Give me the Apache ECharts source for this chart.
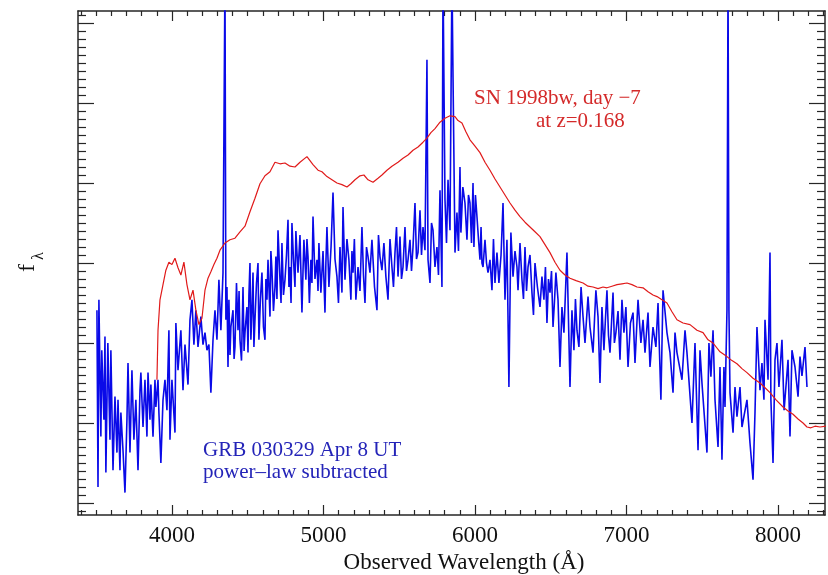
<!DOCTYPE html>
<html>
<head>
<meta charset="utf-8">
<title>GRB 030329 vs SN 1998bw</title>
<script src="https://cdn.jsdelivr.net/npm/echarts@6/dist/echarts.min.js"></script>
<style>
  html, body { margin: 0; padding: 0; background: #fff; }
  #chart { width: 828px; height: 575px; }
</style>
</head>
<body>
<div id="chart"></div>
<script>
// [wavelength (Angstrom), flux (arbitrary, 10 units per major y tick)]
var grbSpectrum = [
    [3505, 24.1], [3512, 2.0], [3518, 25.4], [3531, 8.3], [3537, 19.1], [3551, 10.4], [3558, 20.8], [3564, 3.8],
    [3577, 20.0], [3591, 7.9], [3597, 19.1], [3611, 4.1], [3624, 13.3], [3637, 6.3], [3644, 12.9], [3657, 4.1],
    [3663, 11.3], [3677, 6.6], [3690, 1.3], [3703, 10.4], [3710, 17.5], [3723, 6.3], [3736, 16.6], [3749, 7.9],
    [3762, 12.9], [3776, 4.1], [3789, 14.1], [3795, 16.3], [3809, 9.5], [3822, 15.4], [3835, 8.3], [3842, 16.3],
    [3855, 10.4], [3861, 14.8], [3875, 8.3], [3888, 15.4], [3894, 12.0], [3908, 15.4], [3914, 11.3], [3927, 5.0],
    [3941, 12.9], [3954, 15.4], [3967, 11.6], [3980, 21.6], [3987, 7.9], [4000, 15.4], [4020, 8.8], [4026, 22.5],
    [4040, 16.6], [4059, 21.6], [4073, 14.1], [4086, 19.8], [4106, 14.8], [4119, 22.9], [4132, 25.4], [4145, 19.8],
    [4158, 24.1], [4172, 19.5], [4191, 23.3], [4205, 19.8], [4218, 21.3], [4231, 19.1], [4244, 19.8], [4257, 13.8],
    [4271, 20.4], [4284, 24.1], [4297, 20.4], [4310, 27.9], [4323, 21.6], [4337, 28.8], [4350, 66.0], [4356, 22.9],
    [4363, 27.0], [4370, 17.0], [4376, 25.4], [4383, 18.5], [4389, 22.0], [4403, 24.1], [4410, 18.0], [4416, 19.5],
    [4426, 27.5], [4436, 21.6], [4443, 26.5], [4449, 20.4], [4459, 17.8], [4469, 27.0], [4476, 19.0], [4482, 21.3],
    [4495, 24.5], [4502, 18.8], [4508, 26.0], [4515, 30.0], [4521, 20.4], [4528, 24.0], [4535, 28.8], [4541, 19.5],
    [4548, 22.9], [4558, 27.5], [4568, 30.0], [4574, 20.4], [4584, 25.5], [4594, 28.8], [4604, 22.0], [4614, 20.4],
    [4620, 28.0], [4627, 25.4], [4634, 30.4], [4647, 23.3], [4653, 31.5], [4660, 29.1], [4670, 24.0], [4680, 27.0],
    [4686, 30.8], [4693, 25.5], [4700, 34.1], [4713, 27.9], [4720, 25.0], [4726, 32.5], [4736, 26.0], [4746, 27.9],
    [4756, 31.0], [4766, 35.4], [4772, 27.0], [4779, 29.5], [4786, 25.0], [4792, 35.0], [4802, 30.5], [4812, 27.0],
    [4818, 34.0], [4825, 31.3], [4832, 28.8], [4845, 33.5], [4858, 23.8], [4865, 29.0], [4871, 32.9], [4884, 27.9],
    [4891, 33.0], [4898, 30.8], [4907, 25.0], [4917, 30.4], [4924, 27.5], [4931, 35.8], [4944, 28.0], [4957, 30.4],
    [4964, 26.5], [4970, 32.5], [4983, 26.3], [4997, 31.5], [5010, 23.8], [5016, 30.0], [5023, 34.5], [5036, 27.0],
    [5050, 32.0], [5063, 38.8], [5076, 30.5], [5089, 28.3], [5099, 25.0], [5109, 32.0], [5122, 26.3], [5129, 37.0],
    [5142, 27.9], [5155, 33.0], [5168, 30.4], [5181, 25.4], [5188, 31.5], [5195, 28.8], [5204, 33.0], [5214, 25.4],
    [5228, 29.5], [5241, 26.5], [5254, 34.5], [5264, 28.5], [5274, 25.0], [5284, 32.0], [5294, 30.8], [5307, 28.8],
    [5320, 32.9], [5337, 27.0], [5353, 24.1], [5363, 33.5], [5373, 30.8], [5386, 29.1], [5399, 32.5], [5412, 28.3],
    [5426, 25.4], [5439, 33.0], [5452, 29.5], [5462, 27.0], [5472, 31.3], [5482, 34.5], [5492, 28.3], [5505, 33.3],
    [5515, 28.0], [5525, 29.5], [5538, 34.5], [5548, 29.0], [5558, 30.4], [5571, 32.9], [5581, 29.0], [5591, 32.0],
    [5604, 37.5], [5614, 30.5], [5624, 31.3], [5637, 36.6], [5647, 31.0], [5657, 34.5], [5670, 31.6], [5683, 55.4],
    [5690, 30.4], [5703, 27.5], [5713, 35.0], [5723, 34.1], [5736, 29.5], [5749, 32.0], [5759, 28.5], [5769, 39.1],
    [5782, 27.0], [5789, 66.0], [5802, 37.9], [5812, 32.5], [5822, 40.4], [5835, 34.1], [5848, 66.0], [5855, 53.3],
    [5868, 31.3], [5881, 36.3], [5891, 31.5], [5901, 42.0], [5907, 33.8], [5920, 39.5], [5934, 37.5], [5947, 32.9],
    [5957, 38.5], [5967, 37.5], [5977, 32.5], [5987, 40.0], [5993, 32.0], [6003, 38.5], [6013, 35.8], [6023, 33.0],
    [6033, 30.4], [6040, 34.5], [6046, 30.0], [6053, 29.5], [6066, 32.9], [6076, 30.0], [6086, 28.8], [6099, 30.4],
    [6112, 26.6], [6122, 33.0], [6132, 27.5], [6145, 31.3], [6158, 27.5], [6172, 31.0], [6185, 37.5], [6198, 25.4],
    [6211, 32.9], [6224, 14.5], [6237, 33.8], [6251, 28.3], [6264, 31.5], [6277, 29.5], [6284, 26.6], [6297, 32.5],
    [6310, 27.9], [6320, 25.5], [6330, 32.0], [6340, 26.5], [6350, 29.5], [6363, 31.0], [6376, 26.3], [6386, 23.5],
    [6396, 30.0], [6412, 27.0], [6429, 24.5], [6442, 28.3], [6455, 25.4], [6465, 29.5], [6475, 22.5], [6485, 28.0],
    [6495, 26.3], [6505, 29.0], [6515, 22.0], [6524, 25.0], [6534, 28.8], [6548, 25.4], [6561, 17.0], [6574, 24.5],
    [6587, 21.3], [6607, 31.3], [6627, 14.5], [6640, 24.1], [6653, 19.1], [6663, 25.5], [6673, 21.6], [6686, 19.5],
    [6700, 27.0], [6713, 23.3], [6726, 20.0], [6746, 25.8], [6759, 22.0], [6779, 18.8], [6789, 23.0], [6798, 26.6],
    [6812, 23.3], [6825, 15.0], [6838, 24.5], [6851, 19.1], [6861, 23.0], [6871, 26.6], [6881, 21.0], [6891, 18.8],
    [6901, 22.5], [6911, 26.3], [6920, 20.0], [6930, 21.3], [6944, 24.0], [6957, 17.9], [6970, 25.4], [6983, 21.3],
    [6996, 24.5], [7010, 17.0], [7026, 22.5], [7043, 23.8], [7056, 17.5], [7076, 25.4], [7095, 20.0], [7109, 22.9],
    [7122, 18.8], [7142, 23.8], [7155, 17.0], [7175, 22.0], [7194, 19.5], [7208, 25.0], [7227, 12.9], [7241, 26.6],
    [7267, 21.3], [7287, 18.8], [7307, 13.8], [7320, 21.3], [7333, 18.8], [7366, 15.4], [7386, 21.6], [7399, 18.8],
    [7432, 10.0], [7452, 20.0], [7472, 6.6], [7485, 19.1], [7498, 15.0], [7531, 6.3], [7544, 20.0], [7557, 15.8],
    [7571, 21.6], [7584, 12.9], [7604, 7.0], [7617, 17.0], [7630, 5.4], [7643, 17.0], [7650, 12.0], [7663, 24.1],
    [7670, 66.0], [7676, 24.1], [7683, 13.8], [7703, 8.8], [7716, 14.5], [7729, 10.8], [7749, 14.5], [7762, 9.5],
    [7795, 12.9], [7815, 7.5], [7835, 2.9], [7848, 11.3], [7861, 22.0], [7881, 14.1], [7894, 17.5], [7907, 12.9],
    [7914, 22.9], [7934, 15.4], [7947, 31.3], [7953, 12.9], [7967, 5.0], [7980, 17.9], [7993, 20.0], [8006, 14.5],
    [8026, 20.4], [8040, 11.6], [8066, 17.9], [8079, 8.3], [8092, 19.1], [8112, 17.0], [8132, 13.3], [8145, 18.3],
    [8158, 15.9], [8178, 19.5], [8191, 14.5]
];

var snSpectrum = [
    [3901, 15.4], [3908, 21.6], [3921, 25.4], [3941, 27.3], [3960, 29.1], [3980, 30.1], [4000, 29.8], [4020, 30.6],
    [4040, 29.4], [4059, 28.5], [4079, 30.1], [4099, 27.3], [4119, 25.4], [4139, 26.6], [4158, 24.1], [4178, 22.3],
    [4198, 23.1], [4218, 26.6], [4238, 28.1], [4257, 28.9], [4277, 29.8], [4297, 30.6], [4317, 31.6], [4350, 32.5],
    [4383, 32.9], [4416, 33.1], [4449, 33.9], [4482, 34.6], [4515, 36.4], [4548, 38.1], [4581, 39.9], [4614, 40.9],
    [4647, 41.4], [4680, 42.6], [4713, 42.4], [4746, 42.5], [4779, 42.1], [4812, 42.0], [4845, 42.6], [4891, 43.3],
    [4931, 42.3], [4964, 41.6], [4990, 41.4], [5023, 40.8], [5056, 40.4], [5089, 40.0], [5122, 39.8], [5155, 39.5],
    [5181, 39.9], [5208, 40.4], [5241, 40.9], [5267, 41.0], [5294, 40.4], [5327, 40.1], [5360, 40.6], [5386, 41.0],
    [5419, 41.6], [5452, 42.1], [5492, 42.6], [5525, 43.1], [5558, 43.5], [5591, 44.1], [5624, 44.5], [5657, 45.1],
    [5683, 45.6], [5709, 46.3], [5736, 46.8], [5769, 47.6], [5802, 48.1], [5835, 48.4], [5868, 48.3], [5888, 47.8],
    [5914, 47.5], [5940, 46.4], [5967, 45.4], [6000, 44.6], [6033, 43.8], [6066, 42.6], [6099, 41.6], [6132, 40.5],
    [6165, 39.5], [6198, 38.5], [6231, 37.5], [6264, 36.6], [6297, 35.8], [6330, 35.1], [6363, 34.5], [6396, 33.9],
    [6429, 33.3], [6462, 32.3], [6495, 31.3], [6528, 30.1], [6561, 29.1], [6594, 28.5], [6627, 28.1], [6667, 27.8],
    [6713, 27.5], [6746, 27.1], [6779, 27.0], [6812, 26.8], [6845, 27.0], [6871, 26.9], [6904, 27.1], [6937, 27.3],
    [6970, 27.4], [7003, 27.5], [7036, 27.3], [7069, 27.0], [7109, 26.9], [7142, 26.4], [7175, 26.0], [7201, 25.8],
    [7234, 25.4], [7267, 25.0], [7300, 23.9], [7333, 22.9], [7373, 22.5], [7419, 22.3], [7465, 21.6], [7505, 21.3],
    [7538, 20.4], [7571, 20.0], [7617, 18.9], [7663, 18.3], [7696, 17.8], [7729, 17.4], [7762, 16.8], [7795, 16.3],
    [7835, 15.6], [7881, 15.0], [7914, 14.4], [7947, 13.8], [7987, 12.9], [8033, 12.0], [8066, 11.5], [8099, 11.1],
    [8132, 10.5], [8165, 10.0], [8191, 9.5], [8217, 9.4], [8244, 9.6], [8277, 9.5], [8316, 9.6]
];

var xMin = 3380, xMax = 8310;
var yMin = -1.5, yMax = 61.5;
var xMajorTicks = [4000, 5000, 6000, 7000, 8000];
var yMajorTicks = [0, 10, 20, 30, 40, 50, 60];

var chart = echarts.init(document.getElementById('chart'));

// 构造次刻度
var xMinorTicks = [];
for (var w = 3400; w <= 8300; w += 100) {
    if (xMajorTicks.indexOf(w) < 0) xMinorTicks.push(w);
}
var yMinorTicks = [];
for (var k = -1; k <= 61; k++) {
    if (k % 10 !== 0) yMinorTicks.push(k);
}

var frameColor = '#262626';
var serif = '"Liberation Serif", "DejaVu Serif", serif';

function xAxisDef(position, ticks, len, withLine, withLabel) {
    return {
        type: 'value', min: xMin, max: xMax, position: position,
        axisLine: { show: withLine, onZero: false, lineStyle: { color: frameColor, width: 1.5 } },
        axisTick: { show: true, inside: true, length: len, customValues: ticks, lineStyle: { color: frameColor, width: 1.2 } },
        axisLabel: withLabel ? {
            show: true, customValues: ticks, margin: 9, color: '#111', fontFamily: serif, fontSize: 23,
            formatter: function (v) { return String(v); }
        } : { show: false },
        splitLine: { show: false }
    };
}

function yAxisDef(position, ticks, len, withLine) {
    return {
        type: 'value', min: yMin, max: yMax, position: position,
        axisLine: { show: withLine, onZero: false, lineStyle: { color: frameColor, width: 1.5 } },
        axisTick: { show: true, inside: true, length: len, customValues: ticks, lineStyle: { color: frameColor, width: 1.2 } },
        axisLabel: { show: false },
        splitLine: { show: false }
    };
}

chart.setOption({
    backgroundColor: '#ffffff',
    animation: false,
    grid: { left: 78, right: 3, top: 11, bottom: 60 },
    xAxis: [
        xAxisDef('bottom', xMajorTicks, 10, true, true),
        xAxisDef('bottom', xMinorTicks, 5, false, false),
        xAxisDef('top', xMajorTicks, 10, true, false),
        xAxisDef('top', xMinorTicks, 5, false, false)
    ],
    yAxis: [
        yAxisDef('left', yMajorTicks, 16, true),
        yAxisDef('left', yMinorTicks, 8, false),
        yAxisDef('right', yMajorTicks, 16, true),
        yAxisDef('right', yMinorTicks, 8, false)
    ],
    series: [
        {
            name: 'GRB 030329', type: 'line', xAxisIndex: 0, yAxisIndex: 0,
            data: grbSpectrum, showSymbol: false, clip: true,
            lineStyle: { color: '#0a0ae8', width: 1.6 }
        },
        {
            name: 'SN 1998bw', type: 'line', xAxisIndex: 0, yAxisIndex: 0,
            data: snSpectrum, showSymbol: false, clip: true,
            lineStyle: { color: '#e01a1a', width: 1.2 }
        }
    ],
    graphic: [
        { type: 'text', x: 464, y: 563, style: { text: 'Observed Wavelength (Å)', fill: '#111', font: '23px ' + serif, textAlign: 'center', textVerticalAlign: 'middle' } },
        { type: 'text', x: 28, y: 268, rotation: Math.PI / 2, style: { text: 'f', fill: '#111', font: '24px ' + serif, textAlign: 'center', textVerticalAlign: 'middle' } },
        { type: 'text', x: 39, y: 256, rotation: Math.PI / 2, style: { text: 'λ', fill: '#111', font: '16px ' + serif, textAlign: 'center', textVerticalAlign: 'middle' } },
        { type: 'text', x: 474, y: 98, style: { text: 'SN 1998bw, day \u22127', fill: '#d42a2a', font: '21px ' + serif, textAlign: 'left', textVerticalAlign: 'middle' } },
        { type: 'text', x: 536, y: 121, style: { text: 'at z=0.168', fill: '#d42a2a', font: '21px ' + serif, textAlign: 'left', textVerticalAlign: 'middle' } },
        { type: 'text', x: 203, y: 450, style: { text: 'GRB 030329 Apr 8 UT', fill: '#2424b8', font: '21px ' + serif, textAlign: 'left', textVerticalAlign: 'middle' } },
        { type: 'text', x: 203, y: 472, style: { text: 'power\u2013law subtracted', fill: '#2424b8', font: '21px ' + serif, textAlign: 'left', textVerticalAlign: 'middle' } }
    ]
});
</script>
</body>
</html>
